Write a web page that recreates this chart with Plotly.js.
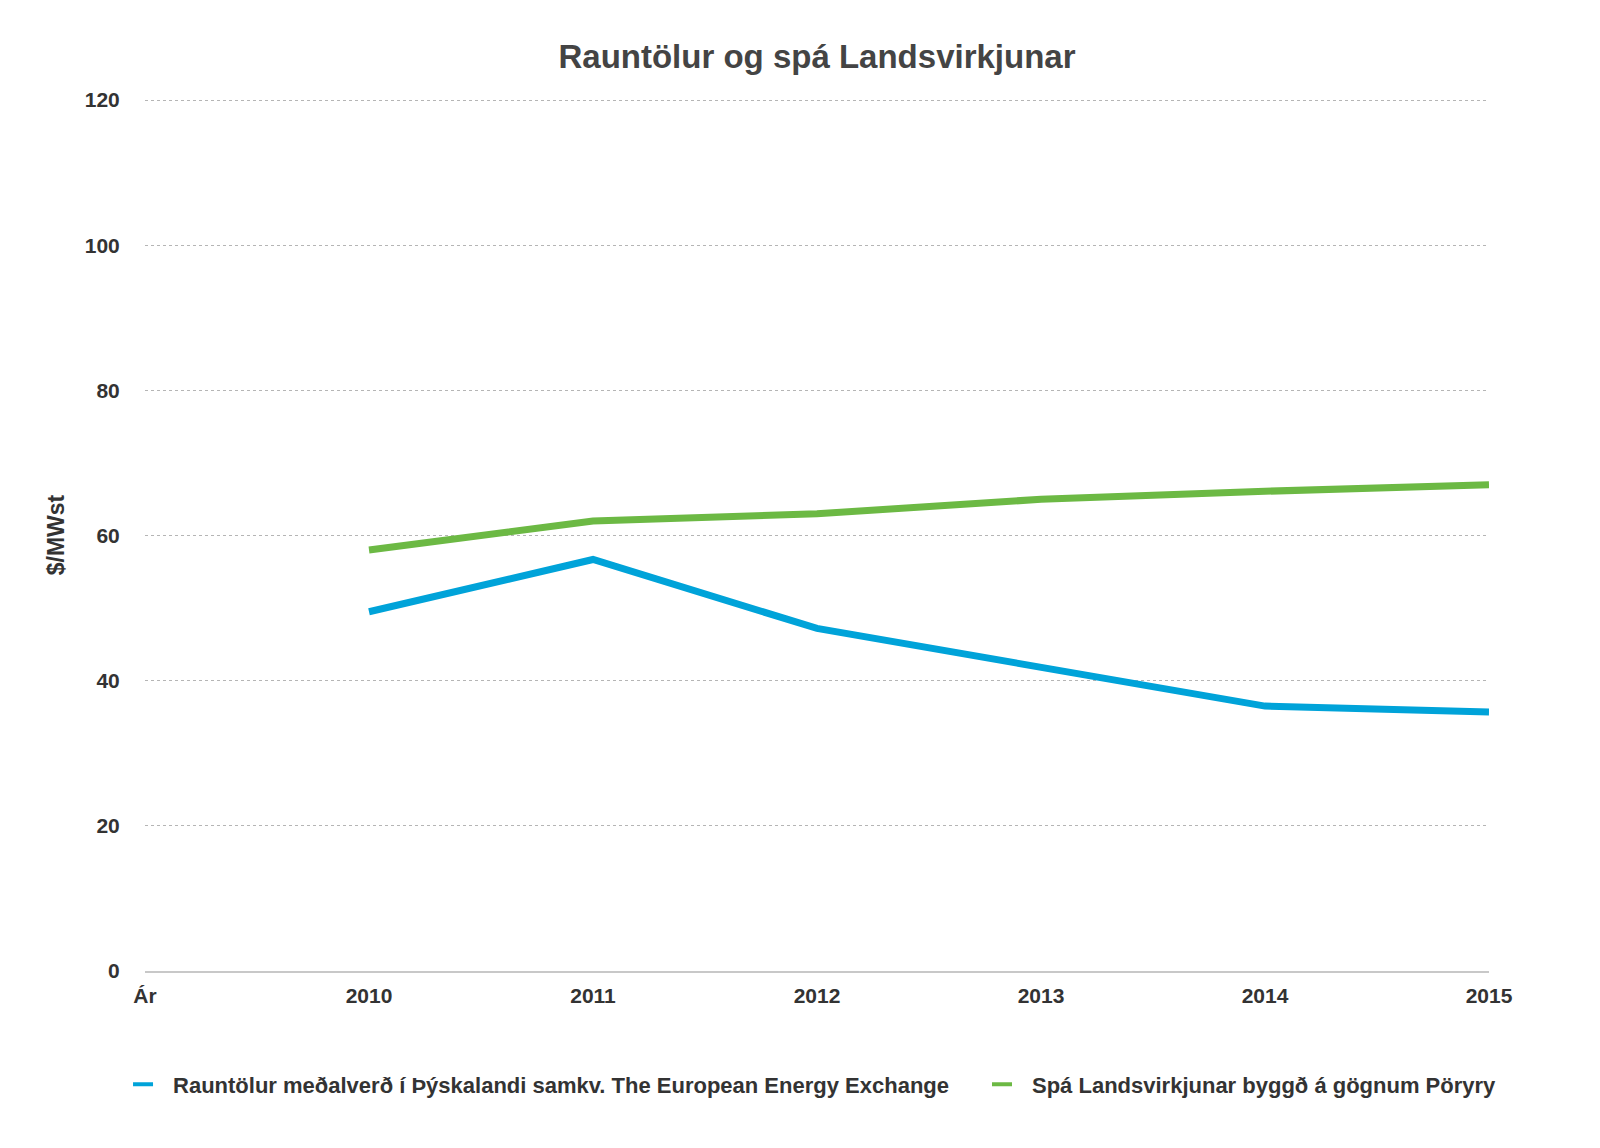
<!DOCTYPE html>
<html>
<head>
<meta charset="utf-8">
<script src="https://cdn.plot.ly/plotly-3.0.1.min.js"></script>
<style>html,body{margin:0;padding:0;background:#fff;}#chart{width:1600px;height:1148px;}</style>
</head>
<body>
<div id="chart"></div>
<script>
const categories = ['Ár', '2010', '2011', '2012', '2013', '2014', '2015'];
const years = ['2010', '2011', '2012', '2013', '2014', '2015'];
const rauntolur = [49.5, 56.7, 47.2, 41.8, 36.5, 35.7];
const spa = [58.0, 62.0, 63.0, 65.0, 66.1, 67.0];
const seriesNames = ['Rauntölur meðalverð í Þýskalandi samkv. The European Energy Exchange', 'Spá Landsvirkjunar byggð á gögnum Pöryry'];
const seriesColors = ['#00a3d9', '#6cb944'];
const yTicks = [0, 20, 40, 60, 80, 100, 120];

const fontFam = '"Liberation Sans", Arial, sans-serif';

const traces = [
  {x: years, y: rauntolur, name: seriesNames[0], type: 'scatter', mode: 'lines', legend: 'legend',
   line: {color: seriesColors[0], width: 7}},
  {x: years, y: spa, name: seriesNames[1], type: 'scatter', mode: 'lines', legend: 'legend2',
   line: {color: seriesColors[1], width: 7}}
];

const legFont = {family: fontFam, size: 22, color: '#333', weight: 'bold'};

const layout = {
  width: 1600, height: 1148,
  margin: {l: 145, r: 111, t: 99, b: 177},
  paper_bgcolor: '#fff', plot_bgcolor: '#fff',
  font: {family: fontFam, color: '#333', size: 22, weight: 'bold'},
  title: {text: 'Rauntölur og spá Landsvirkjunar', x: 0.5, xref: 'paper', y: 0.951, yref: 'container', yanchor: 'middle',
    font: {family: fontFam, size: 33, color: '#444', weight: 'bold'}},
  xaxis: {type: 'category', categoryorder: 'array', categoryarray: categories,
    tickvals: categories, ticktext: categories,
    range: [0, 6], showgrid: false, zeroline: false,
    showline: true, linecolor: '#c8c8c8', linewidth: 1.5,
    ticks: 'outside', ticklen: 5, tickcolor: 'rgba(0,0,0,0)',
    tickfont: {family: fontFam, size: 21, color: '#333', weight: 'bold'}},
  yaxis: {range: [0, 120.15], tickvals: yTicks, showgrid: true, gridcolor: '#b5b5b5', griddash: 'dot', gridwidth: 1,
    zeroline: false, showline: false,
    ticks: 'outside', ticklen: 20, tickcolor: 'rgba(0,0,0,0)',
    tickfont: {family: fontFam, size: 21, color: '#333', weight: 'bold'},
    title: {text: '$/MWst', standoff: 13, font: {family: fontFam, size: 23, color: '#333', weight: 'bold'}}},
  legend: {orientation: 'h', x: -0.0089, xanchor: 'left', y: -0.13, yanchor: 'middle',
    font: legFont, itemwidth: 30, itemclick: false},
  legend2: {orientation: 'h', x: (992 - 145) / 1344, xanchor: 'left', y: -0.13, yanchor: 'middle',
    font: legFont, itemwidth: 30, itemclick: false},
  showlegend: true
};

Plotly.newPlot('chart', traces, layout, {displayModeBar: false, staticPlot: true}).then(function (gd) {
  gd.querySelectorAll('.legendlines path').forEach(function (p) {
    p.style.strokeWidth = '4px';
    p.setAttribute('d', 'M-1,0h21');
  });
});
</script>
</body>
</html>
